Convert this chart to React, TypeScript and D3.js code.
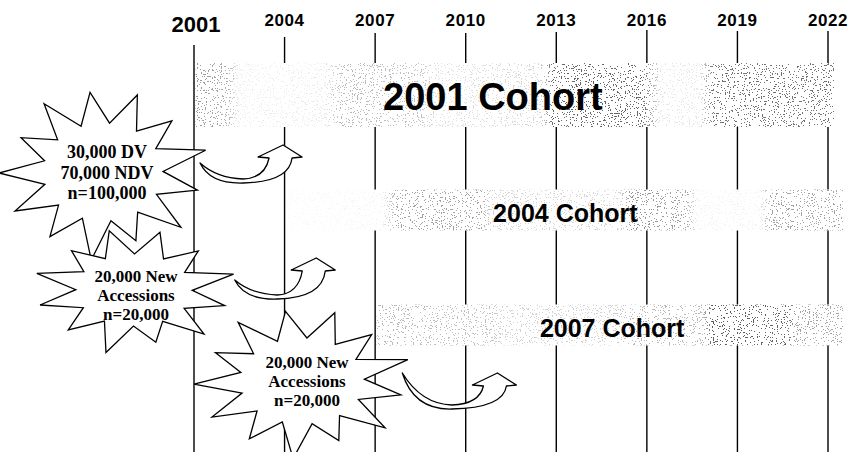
import React, { useEffect } from 'react';
import * as d3 from 'd3';

// timeline ticks
const years = [2001, 2004, 2007, 2010, 2013, 2016, 2019, 2022];

// cohort bands
const cohorts = ['2001 Cohort', '2004 Cohort', '2007 Cohort'];
const cohortStart = [2001, 2004, 2007];
const cohortEnd = [2022.2, 2022.5, 2022.5];

// starburst notes
const burstText = [
  ['30,000 DV', '70,000 NDV', 'n=100,000'],
  ['20,000 New', 'Accessions', 'n=20,000'],
  ['20,000 New', 'Accessions', 'n=20,000'],
];

// curved arrows (year where tail starts -> year of the tip)
const arrowFrom = [2001.2, 2002.35, 2007.9];
const arrowTo = [2003.95, 2005.05, 2011.05];

const W = 851;
const H = 452;
const SANS = '"Liberation Sans", Arial, sans-serif';
const SERIF = '"Liberation Serif", "Times New Roman", serif';

// layout of the decorations
const burstLayout = [
  { cx: 103, cy: 172, rx: 100, ry: 82, n: 13, tilt: -1.22, ty: [158, 178.5, 199], tx: 107, fs: 18 },
  { cx: 134, cy: 290, rx: 97, ry: 60, n: 12, tilt: -1.3, ty: [282, 301, 320], tx: 136, fs: 17 },
  { cx: 302, cy: 381, rx: 104, ry: 72, n: 13, tilt: -1.25, ty: [368, 387, 406], tx: 307, fs: 17 },
];
const arrowShape = [
  { y0: 163, d: 19, t: -18 },
  { y0: 280, d: 18, t: -22 },
  { y0: 373, d: 35, t: 0 },
];
const labelAt = [2010.9, 2013.3, 2014.85];
const jitter = [1, 0.93, 1.06, 0.97, 1.03, 0.9, 1.08, 0.95, 1.0, 1.04, 0.92, 1.02, 0.98];

function starPoints(b: any): [number, number][] {
  const pts: [number, number][] = [];
  for (let i = 0; i < b.n * 2; i++) {
    const a = b.tilt + (i * Math.PI) / b.n;
    const r = i % 2 === 0 ? jitter[(i / 2) % jitter.length] : 0.6;
    pts.push([b.cx + Math.cos(a) * b.rx * r, b.cy + Math.sin(a) * b.ry * r]);
  }
  return pts;
}

function arrowPath(x0: number, y0: number, w: number, d: number, t: number) {
  const bx = x0 + 0.52 * w;
  const by = y0 + d;
  const tx = x0 + w;
  const ty = y0 + t;
  const hb = ty + 12;
  return `M${x0},${y0} Q${x0 + 0.12 * w},${by + 2} ${bx},${by + 1} Q${tx + 6},${by} ${tx + 9},${hb + 1} ` +
    `L${tx + 19},${hb} L${tx},${ty} L${tx - 25},${hb} L${tx - 14},${hb + 1} ` +
    `Q${tx - 18},${by - 4} ${bx},${by - 3} Q${x0 + 0.2 * w},${by - 4} ${x0},${y0} Z`;
}

// density of the speckle along each band (offset, opacity)
const bandDensity = [
  [[0, 0.5], [0.05, 0.4], [0.07, 0.08], [0.2, 0.1], [0.23, 0.35], [0.35, 0.3], [0.38, 0.15], [0.54, 0.2], [0.56, 0.75], [0.7, 0.75], [0.73, 0.12], [0.79, 0.12], [0.81, 0.7], [1, 0.7]],
  [[0, 0.03], [0.17, 0.05], [0.2, 0.45], [0.35, 0.45], [0.37, 0.2], [0.6, 0.2], [0.62, 0.55], [0.72, 0.45], [0.74, 0.06], [0.85, 0.06], [0.87, 0.45], [1, 0.45]],
  [[0, 0.35], [0.25, 0.3], [0.27, 0.22], [0.5, 0.22], [0.55, 0.35], [0.7, 0.35], [0.72, 0.8], [0.88, 0.75], [0.9, 0.45], [1, 0.45]],
];

export default function App() {
  useEffect(() => {
    document.body.style.margin = '0';
  }, []);

  const x = d3.scaleLinear().domain([2001, 2022]).range([194, 828]);
  const y = d3.scalePoint<string>().domain(cohorts).range([95, 325]);
  const lineTop = d3.scaleOrdinal<number, number>().domain(years).range([45, 37, 33, 33, 32, 30, 31, 31]);
  const star = d3.line().curve(d3.curveLinearClosed);

  return (
    <svg width={W} height={H} style={{ display: 'block', background: '#fff' }}>
      <defs>
        <filter id="speckle" x="0" y="0" width="100%" height="100%" colorInterpolationFilters="sRGB">
          <feTurbulence type="fractalNoise" baseFrequency="0.75" numOctaves={2} seed={11} result="n" />
          <feColorMatrix in="n" type="matrix" values="0 0 0 0 0  0 0 0 0 0  0 0 0 0 0  1 0 0 0 0" result="a" />
          <feComponentTransfer in="a" result="t">
            <feFuncA type="discrete" tableValues="0 0 0 0 0 0 0 0 0 0 0 0 0 1 1 1 1 1 1 1" />
          </feComponentTransfer>
          <feFlood floodColor="#333" result="c" />
          <feComposite in="c" in2="t" operator="in" result="dots" />
          <feComposite in="dots" in2="SourceGraphic" operator="in" />
        </filter>
        {bandDensity.map((stops, i) => (
          <linearGradient key={i} id={`dens${i}`} x1="0" x2="1" y1="0" y2="0">
            {stops.map(([o, v], j) => (
              <stop key={j} offset={o} stopColor="#000" stopOpacity={v} />
            ))}
          </linearGradient>
        ))}
      </defs>

      {/* year grid */}
      {years.map((yr) => (
        <g key={yr}>
          <line x1={x(yr)} x2={x(yr)} y1={lineTop(yr)} y2={H} stroke="#000" strokeWidth={1.4} />
          <text
            x={x(yr) + (yr === 2001 ? 2 : 0)}
            y={yr === 2001 ? 32 : 26}
            textAnchor="middle"
            fontFamily={SANS}
            fontWeight="bold"
            fontSize={yr === 2001 ? 22 : 17}
            letterSpacing={yr === 2001 ? 0 : 0.6}
          >
            {yr}
          </text>
        </g>
      ))}

      {/* cohort bands */}
      {cohorts.map((c, i) => {
        const h = i === 0 ? 64 : 41;
        const x0 = x(cohortStart[i]);
        const x1 = x(cohortEnd[i]);
        const bgStart = i === 1 ? x(2007) - 2 : x0 + 1.5;
        return (
          <g key={c}>
            <rect x={bgStart} y={y(c)! - h / 2} width={x1 - bgStart} height={h} fill="#fff" />
            <rect x={x0 + 1.5} y={y(c)! - h / 2} width={x1 - x0 - 1.5} height={h} fill={`url(#dens${i})`} filter="url(#speckle)" />
            <text
              x={x(labelAt[i])}
              y={y(c)! + (i === 0 ? 15 : 12)}
              textAnchor="middle"
              fontFamily={SANS}
              fontWeight="bold"
              fontSize={i === 0 ? 38 : 25}
            >
              {c}
            </text>
          </g>
        );
      })}

      {/* curved arrows */}
      {arrowFrom.map((f, i) => {
        const x0 = x(f);
        const s = arrowShape[i];
        return (
          <path key={i} d={arrowPath(x0, s.y0, x(arrowTo[i]) - x0, s.d, s.t)} fill="#fff" stroke="#000" strokeWidth={1.3} strokeLinejoin="round" />
        );
      })}

      {/* starbursts */}
      {burstText.map((lines, i) => {
        const b = burstLayout[i];
        return (
          <g key={i}>
            <path d={star(starPoints(b))!} fill="#fff" stroke="#000" strokeWidth={1.3} strokeLinejoin="miter" />
            {lines.map((t, j) => (
              <text key={j} x={b.tx} y={b.ty[j]} textAnchor="middle" fontFamily={SERIF} fontWeight="bold" fontSize={b.fs}>
                {t}
              </text>
            ))}
          </g>
        );
      })}
    </svg>
  );
}
